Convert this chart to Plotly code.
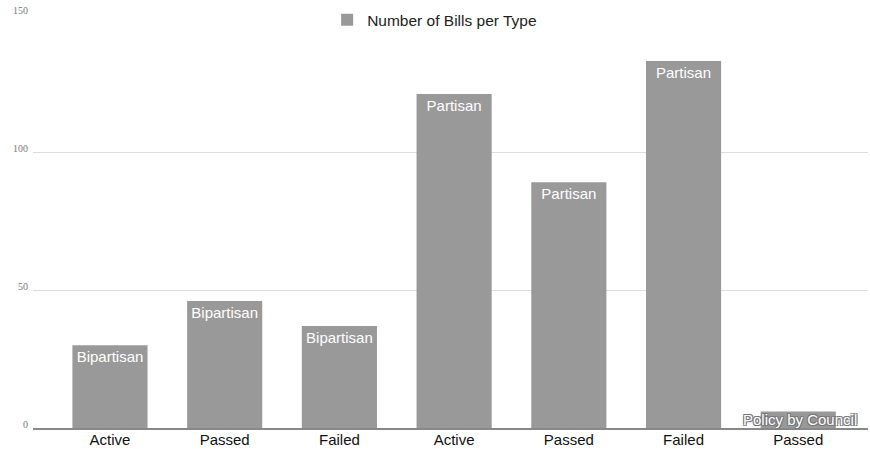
import plotly.graph_objects as go

categories = ["Active", "Passed", "Failed", "Active", "Passed", "Failed", "Passed"]
values = [30, 46, 37, 121, 89, 133, 6]
bar_labels = ["Bipartisan", "Bipartisan", "Bipartisan", "Partisan", "Partisan", "Partisan", ""]
y_ticks = [0, 50, 100, 150]
series_name = "Number of Bills per Type"
watermark = "Policy by Council"

positions = list(range(len(categories)))

fig = go.Figure()
fig.add_trace(go.Bar(
    x=positions,
    y=values,
    name=series_name,
    text=bar_labels,
    textposition="inside",
    insidetextanchor="end",
    textangle=0,
    textfont=dict(family="Liberation Sans, Arial, sans-serif", size=15, color="white"),
    marker=dict(color="#999999", line=dict(width=0)),
    width=0.655,
    showlegend=True,
))

fig.add_annotation(
    text=watermark,
    xref="x", yref="y",
    x=6, y=1.5,
    xanchor="center", yanchor="middle",
    showarrow=False,
    font=dict(family="Liberation Sans, Arial, sans-serif", size=15, color="white",
              shadow="1px 1px 0px #777, -1px -1px 0px #777, 1px -1px 0px #777, -1px 1px 0px #777"),
    xshift=2,
    yshift=4,
)

fig.update_layout(
    width=870, height=449,
    margin=dict(l=33, r=2, t=14, b=21, autoexpand=False),
    plot_bgcolor="white",
    paper_bgcolor="white",
    bargap=0.3,
    legend=dict(
        orientation="h",
        x=0.481, xanchor="center",
        y=0.985, yanchor="middle",
        bgcolor="rgba(0,0,0,0)",
        font=dict(family="Liberation Sans, Arial, sans-serif", size=15.5, color="#222222"),
    ),
    xaxis=dict(
        range=[-0.671, 6.608],
        tickmode="array",
        tickvals=positions,
        ticktext=categories,
        showgrid=False,
        showline=True,
        linecolor="#888888",
        linewidth=1.5,
        ticks="",
        automargin=False,
        ticklabelstandoff=-3,
        tickfont=dict(family="Liberation Sans, Arial, sans-serif", size=15, color="#111111"),
        zeroline=False,
    ),
    yaxis=dict(
        range=[0, 150],
        tickmode="array",
        tickvals=y_ticks,
        showgrid=True,
        gridcolor="#dddddd",
        gridwidth=1,
        zeroline=False,
        showline=False,
        ticks="",
        automargin=False,
        ticklabelstandoff=4,
        ticklabelshift=-4,
        tickfont=dict(family="Liberation Serif, Times New Roman, serif", size=10, color="#777777"),
    ),
)

fig.write_html("out.html")
